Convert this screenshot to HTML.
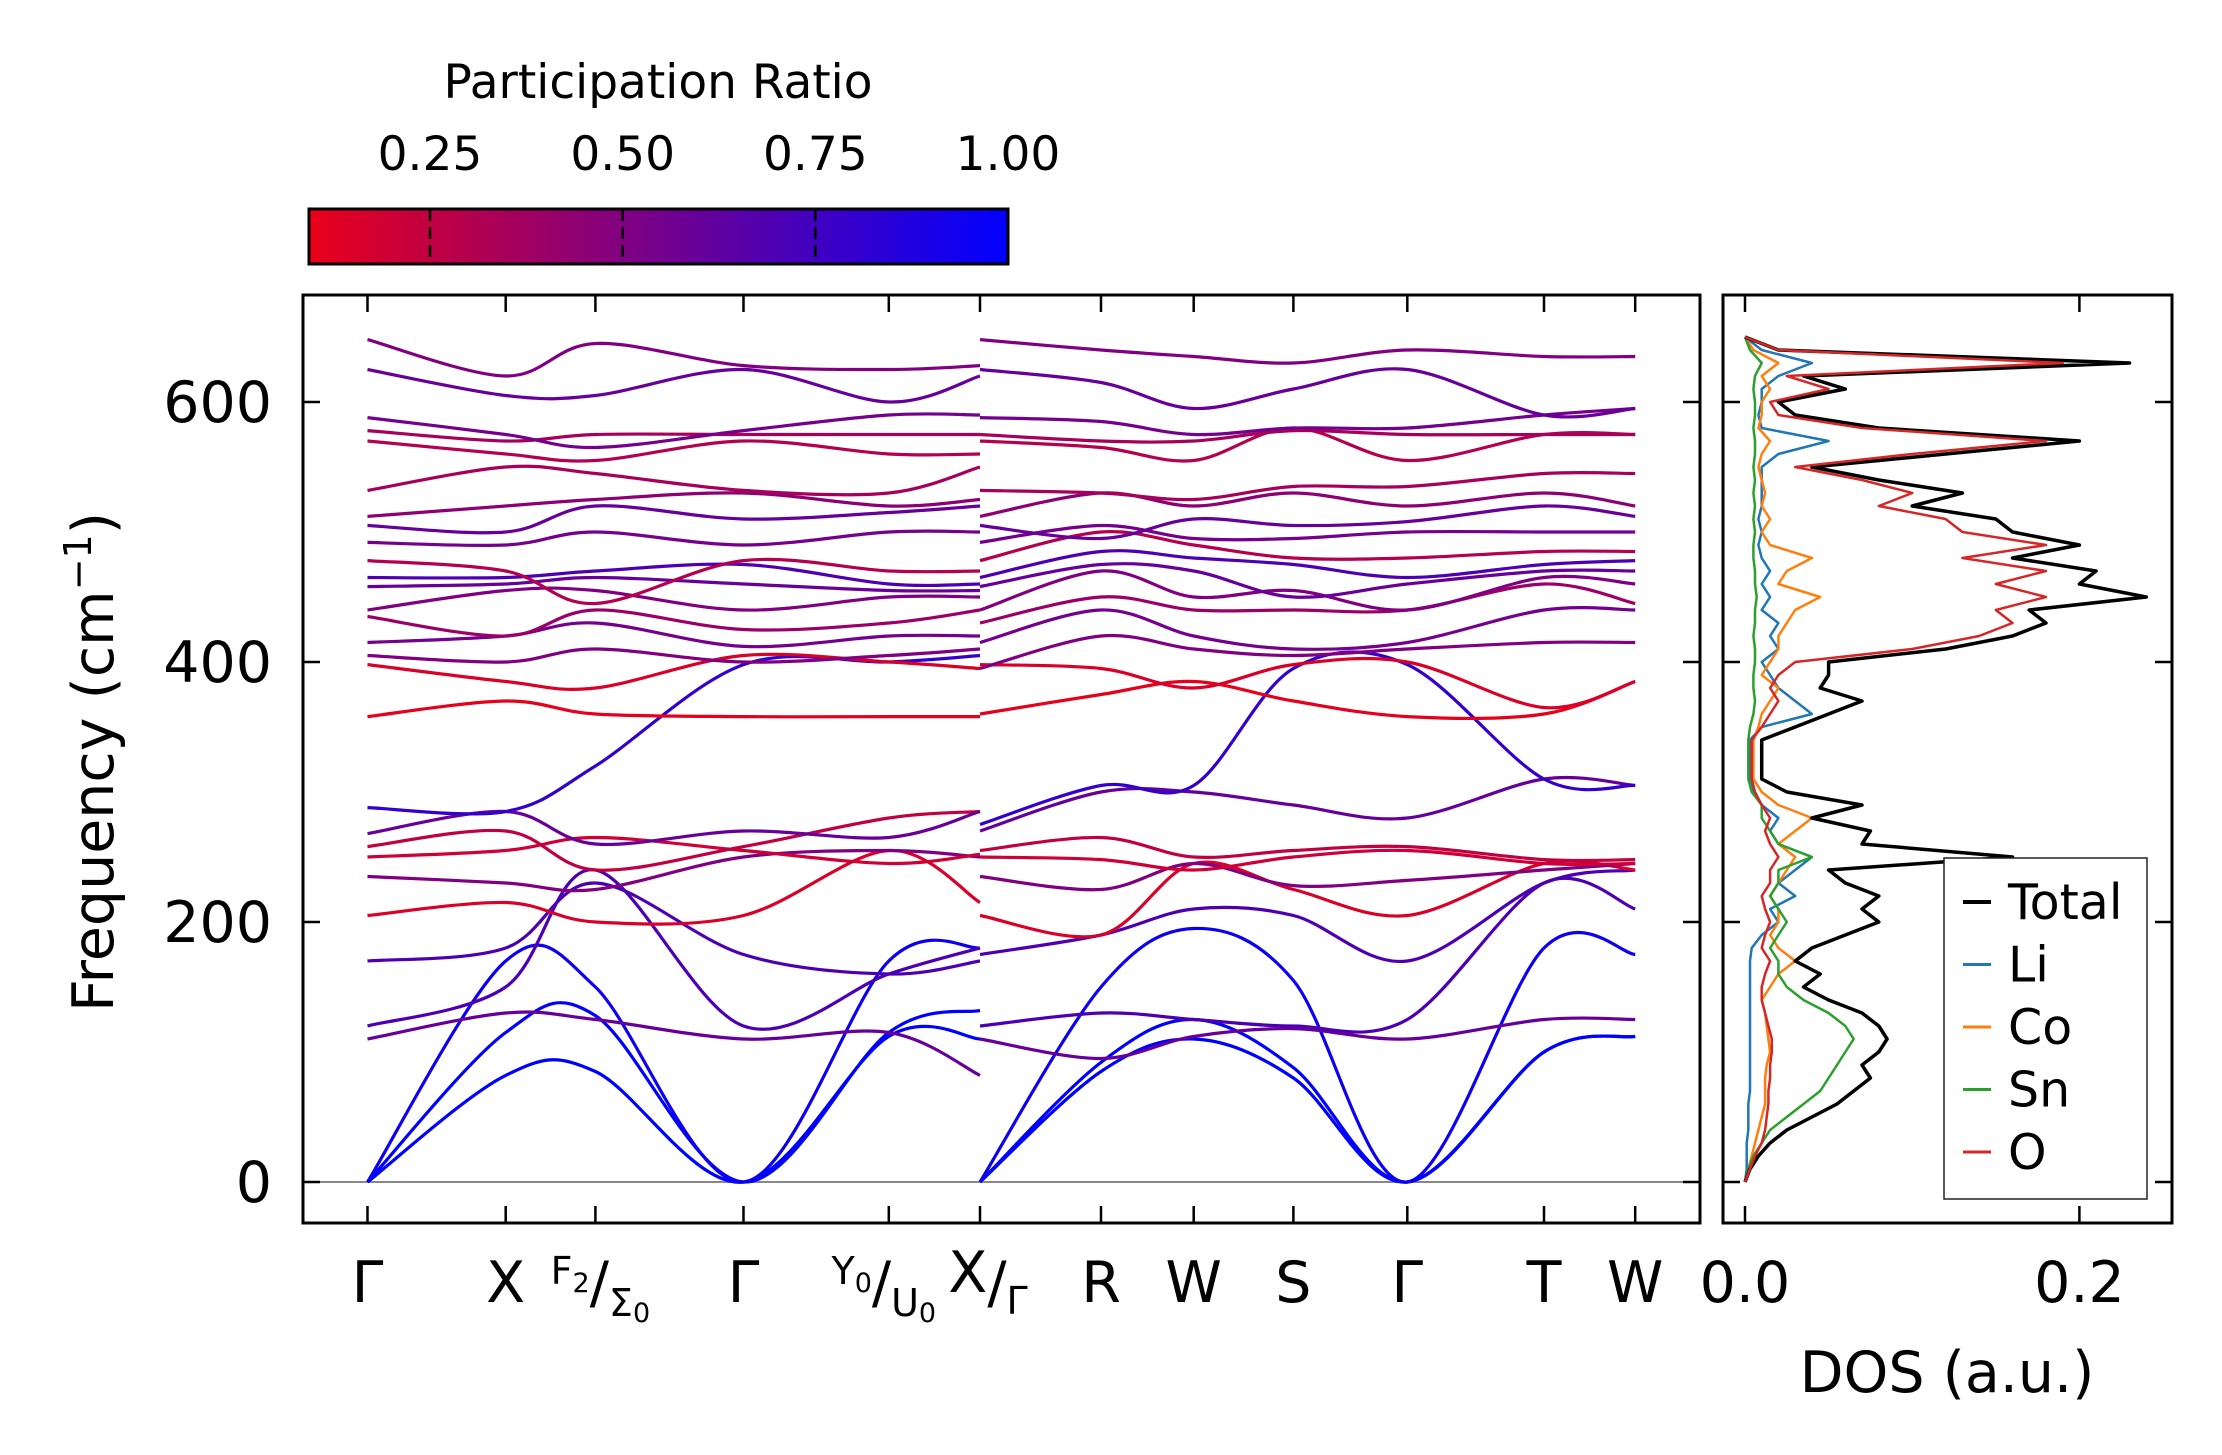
<!DOCTYPE html>
<html><head><meta charset="utf-8"><title>Phonon bands and DOS</title>
<style>
html,body{margin:0;padding:0;background:#fff;}
svg{display:block;font-family:"DejaVu Sans","Liberation Sans",sans-serif;}
</style></head>
<body>
<svg id="fig" width="2222" height="1455" viewBox="0 0 2222 1455" xmlns="http://www.w3.org/2000/svg">
<defs>
<linearGradient id="cbgrad" x1="0" x2="1" y1="0" y2="0">
<stop offset="0" stop-color="rgb(233,0,26)"/><stop offset="1" stop-color="rgb(0,0,255)"/>
</linearGradient>
</defs>
<g id="colorbar">
<text x="658" y="98" font-size="47" text-anchor="middle">Participation Ratio</text>
<rect x="309" y="209" width="699" height="55" fill="url(#cbgrad)" stroke="#000" stroke-width="3"/>
<g id="cbticks"></g>
</g>
<g id="bandplot"></g>
<g id="dosplot"></g>
<text transform="translate(113,762) rotate(-90)" font-size="57" text-anchor="middle">Frequency (cm<tspan baseline-shift="super" font-size="38">−1</tspan>)</text>
<text x="1947" y="1392" font-size="57" text-anchor="middle">DOS (a.u.)</text>
</svg>
<script>
const NS="http://www.w3.org/2000/svg";
// ---- colorbar data
const cbTicks=[0.25,0.5,0.75,1.0];
const cbLabels=["0.25","0.50","0.75","1.00"];
// ---- band structure data
const nodeLabels=["Γ","X","F2/Σ0","Γ","Y0/U0","X/Γ","","R","W","S","Γ","T","W"];
const freqTicks=[0,200,400,600];
const bandPR=[1.0,1.0,0.95,0.6,0.7,0.7,0.15,0.5,0.2,0.25,0.6,0.8,0.1,0.15,0.5,0.55,0.4,0.5,0.6,0.7,0.3,0.55,0.6,0.45,0.35,0.3,0.35,0.55,0.6,0.5];
const b01=[0,82,85,0,112,110, 0,85,110,80,0,100,112];
const b02=[0,115,128,0,115,132, 0,92,125,88,0,100,112];
const b03=[0,170,150,0,170,180, 0,150,195,155,0,180,175];
const b04=[110,130,125,110,115,82, 110,95,112,118,110,125,125];
const b05=[120,150,240,120,160,180, 120,130,125,120,125,230,210];
const b06=[170,180,230,175,160,170, 175,190,210,205,170,230,240];
const b07=[205,215,200,205,255,215, 205,190,245,225,205,245,240];
const b08=[235,230,225,250,255,250, 235,225,245,228,232,240,245];
const b09=[250,255,265,255,245,252, 250,248,240,250,255,245,245];
const b10=[258,270,240,258,280,285, 255,265,250,255,258,248,248];
const b11=[268,285,260,270,265,285, 270,300,300,290,280,310,305];
const b12=[288,285,320,398,400,405, 275,305,305,395,398,310,305];
const b13=[358,370,360,358,358,358, 360,375,385,370,358,360,385];
const b14=[398,385,380,405,400,395, 398,395,380,398,400,365,385];
const b15=[405,400,410,400,405,410, 395,420,410,405,410,415,415];
const b16=[415,420,430,412,420,420, 415,440,420,410,415,440,440];
const b17=[435,420,440,425,430,440, 430,450,440,440,440,460,445];
const b18=[440,455,455,440,450,450, 440,470,450,455,440,465,460];
const b19=[458,460,465,460,455,455, 458,475,470,450,460,470,470];
const b20=[465,465,470,475,460,460, 465,485,480,475,465,475,478];
const b21=[478,470,445,478,470,470, 478,500,490,480,480,485,485];
const b22=[492,490,500,490,500,500, 492,505,495,495,500,500,500];
const b23=[505,500,520,510,515,520, 505,495,510,505,508,520,512];
const b24=[512,520,525,530,520,525, 512,530,520,530,520,530,520];
const b25=[532,550,545,532,530,550, 532,530,525,535,535,545,545];
const b26=[570,560,555,570,560,560, 570,565,555,580,555,575,575];
const b27=[578,570,575,575,575,575, 575,570,570,578,575,575,575];
const b28=[588,575,565,578,590,590, 588,585,575,580,580,590,595];
const b29=[625,605,605,625,600,620, 625,615,595,610,625,590,595];
const b30=[648,620,645,628,625,628, 648,640,635,630,640,635,635];
const bands=[b01,b02,b03,b04,b05,b06,b07,b08,b09,b10,b11,b12,b13,b14,b15,b16,b17,b18,b19,b20,b21,b22,b23,b24,b25,b26,b27,b28,b29,b30];
// ---- DOS data (frequency grid every 10 cm-1, 0..650)
const dosFreq=[0,10,20,30,40,50,60,70,80,90,100,110,120,130,140,150,160,170,180,190,200,210,220,230,240,250,260,270,280,290,300,310,320,330,340,350,360,370,380,390,400,410,420,430,440,450,460,470,480,490,500,510,520,530,540,550,560,570,580,590,600,610,620,630,640,650];
const dosTotal=[0,0.003,0.008,0.015,0.025,0.04,0.055,0.065,0.075,0.07,0.08,0.085,0.08,0.07,0.05,0.035,0.045,0.03,0.04,0.06,0.08,0.07,0.08,0.06,0.05,0.16,0.07,0.075,0.04,0.07,0.025,0.01,0.01,0.01,0.01,0.03,0.05,0.07,0.045,0.05,0.05,0.12,0.16,0.18,0.17,0.24,0.2,0.21,0.16,0.2,0.16,0.15,0.1,0.13,0.08,0.04,0.12,0.2,0.08,0.03,0.02,0.06,0.035,0.23,0.02,0];
const dosLi=[0,0.001,0.001,0.001,0.002,0.002,0.002,0.003,0.003,0.003,0.003,0.003,0.003,0.003,0.003,0.003,0.003,0.003,0.004,0.01,0.02,0.015,0.03,0.02,0.03,0.04,0.02,0.015,0.02,0.01,0.005,0.003,0.003,0.003,0.003,0.01,0.04,0.03,0.02,0.015,0.01,0.02,0.015,0.02,0.01,0.015,0.01,0.015,0.01,0.008,0.01,0.008,0.01,0.01,0.01,0.01,0.02,0.05,0.01,0.008,0.01,0.01,0.02,0.04,0.01,0];
const dosCo=[0,0.002,0.004,0.006,0.008,0.01,0.012,0.012,0.012,0.013,0.015,0.014,0.013,0.012,0.01,0.015,0.02,0.03,0.02,0.015,0.02,0.02,0.015,0.02,0.025,0.03,0.02,0.03,0.04,0.02,0.01,0.005,0.005,0.005,0.005,0.008,0.01,0.015,0.02,0.01,0.015,0.02,0.02,0.025,0.03,0.045,0.02,0.025,0.04,0.015,0.01,0.015,0.01,0.012,0.01,0.008,0.01,0.015,0.008,0.01,0.01,0.015,0.01,0.02,0.005,0];
const dosSn=[0,0.002,0.005,0.01,0.015,0.025,0.035,0.045,0.05,0.055,0.06,0.065,0.06,0.05,0.035,0.025,0.02,0.02,0.015,0.02,0.025,0.02,0.015,0.02,0.02,0.04,0.02,0.015,0.01,0.01,0.004,0.002,0.002,0.002,0.002,0.003,0.005,0.006,0.005,0.005,0.006,0.006,0.005,0.006,0.006,0.007,0.006,0.006,0.005,0.005,0.006,0.005,0.006,0.005,0.006,0.005,0.006,0.006,0.005,0.006,0.006,0.005,0.006,0.01,0.003,0];
const dosO=[0,0.003,0.006,0.01,0.012,0.013,0.014,0.014,0.015,0.015,0.016,0.016,0.014,0.012,0.01,0.01,0.012,0.015,0.01,0.012,0.015,0.012,0.01,0.015,0.015,0.02,0.015,0.012,0.015,0.01,0.006,0.004,0.004,0.004,0.004,0.01,0.015,0.02,0.015,0.02,0.03,0.1,0.14,0.16,0.15,0.18,0.15,0.18,0.13,0.18,0.13,0.12,0.08,0.1,0.07,0.03,0.1,0.18,0.07,0.02,0.015,0.05,0.025,0.19,0.02,0];

// ---- geometry
const PL=303,PR_=1700,PT=295,PB=1223;
const DL=1723,DR=2172;
const nodeX=[367.5,505.7,595.4,743.5,888.8,980,980,1101,1193.7,1293.4,1407.3,1544,1635.2];
function yF(f){return 1182-(f/200)*260;}
function xD(v){return 1745+v*1672;}
function cbX(p){return 309+(p-0.093)/(1-0.093)*699;}
function prColor(p){let t=Math.max(0,Math.min(1,(p-0.093)/(1-0.093)));
 return `rgb(${Math.round(233*(1-t))},0,${Math.round(26+229*t)})`;}
function mk(tag,attrs,parent){const e=document.createElementNS(NS,tag);for(const k in attrs)e.setAttribute(k,attrs[k]);parent.appendChild(e);return e;}

// colorbar ticks
const cbt=document.getElementById('cbticks');
cbTicks.forEach((p,i)=>{
 const x=cbX(p);
 if(p<1){const l=mk('line',{x1:x,x2:x,y1:209,y2:264,stroke:'#000','stroke-width':2.5,'stroke-dasharray':'12,6'},cbt);
 
 }
 const t=mk('text',{x:x,y:170,'font-size':47,'text-anchor':'middle'},cbt);
 t.textContent=cbLabels[i];
 
 
});

// band plot
const bp=document.getElementById('bandplot');
const zl=mk('line',{x1:PL,x2:PR_,y1:yF(0),y2:yF(0),stroke:'#888','stroke-width':2},bp);


function smoothPath(xs,ys){
 let d=`M${xs[0]},${ys[0]}`;
 for(let i=0;i<xs.length-1;i++){
  const x0=xs[Math.max(0,i-1)],y0=ys[Math.max(0,i-1)];
  const x1=xs[i],y1=ys[i],x2=xs[i+1],y2=ys[i+1];
  const x3=xs[Math.min(xs.length-1,i+2)],y3=ys[Math.min(xs.length-1,i+2)];
  const c1x=x1+(x2-x0)/6,c1y=y1+(y2-y0)/6,c2x=x2-(x3-x1)/6,c2y=y2-(y3-y1)/6;
  d+=` C${c1x},${c1y} ${c2x},${c2y} ${x2},${y2}`;
 }
 return d;
}
bands.forEach((b,bi)=>{
 const segs=[[0,6],[6,13]];
 segs.forEach(([a,z])=>{
  const xs=nodeX.slice(a,z), ys=b.slice(a,z).map(yF);
  const p=mk('path',{d:smoothPath(xs,ys),fill:'none',stroke:prColor(bandPR[bi]),'stroke-width':3.2},bp);
  
  
 });
});
const fr=mk('rect',{x:PL,y:PT,width:PR_-PL,height:PB-PT,fill:'none',stroke:'#000','stroke-width':3},bp);


[0,1,2,3,4,5,7,8,9,10,11,12].forEach(i=>{
 const x=nodeX[i];
 const t1=mk('line',{x1:x,x2:x,y1:PB,y2:PB-17,stroke:'#000','stroke-width':2.5},bp);
 
 
 const t2=mk('line',{x1:x,x2:x,y1:PT,y2:PT+17,stroke:'#000','stroke-width':2.5},bp);
 
 
});
freqTicks.forEach(f=>{
 const y=yF(f);
 const t1=mk('line',{x1:PL,x2:PL+17,y1:y,y2:y,stroke:'#000','stroke-width':2.5},bp);
 
 
 const t2=mk('line',{x1:PR_,x2:PR_-17,y1:y,y2:y,stroke:'#000','stroke-width':2.5},bp);
 
 
 const lb=mk('text',{x:272,y:y+20,'font-size':57,'text-anchor':'end'},bp);
 lb.textContent=String(f);
 
 
 const t3=mk('line',{x1:DL,x2:DL+17,y1:y,y2:y,stroke:'#000','stroke-width':2.5},document.getElementById('dosplot'));
 
 
 const t4=mk('line',{x1:DR,x2:DR-17,y1:y,y2:y,stroke:'#000','stroke-width':2.5},document.getElementById('dosplot'));
 
 
});
// x labels
const LY=1302;
function simpleLabel(x,s){const t=mk('text',{x:x,y:LY,'font-size':57,'text-anchor':'middle'},bp);t.textContent=s;
 
 }
simpleLabel(nodeX[0],nodeLabels[0]);simpleLabel(nodeX[1],nodeLabels[1]);simpleLabel(nodeX[3],nodeLabels[3]);
simpleLabel(nodeX[7],nodeLabels[7]);simpleLabel(nodeX[8],nodeLabels[8]);simpleLabel(nodeX[9],nodeLabels[9]);
simpleLabel(nodeX[10],nodeLabels[10]);simpleLabel(nodeX[11],nodeLabels[11]);simpleLabel(nodeX[12],nodeLabels[12]);
function compLabel(x,a,asub,b,bsub){
 const t=mk('text',{x:x,y:LY,'font-size':57,'text-anchor':'middle'},bp);
 
 
 t.innerHTML=`<tspan font-size="38" dy="-18">${a}</tspan><tspan font-size="27" dy="8">${asub}</tspan><tspan dy="10">/</tspan><tspan font-size="38" dy="14">${b}</tspan><tspan font-size="27" dy="6">${bsub}</tspan>`;
}
compLabel(nodeX[2]+5,'F','2','Σ','0');
compLabel(nodeX[4]-5,'Y','0','U','0');
const xg=mk('text',{x:nodeX[5]+8,y:LY,'font-size':57,'text-anchor':'middle'},bp);


xg.innerHTML=`<tspan dy="-10">X</tspan><tspan dy="10">/</tspan><tspan font-size="38" dy="12">Γ</tspan>`;

// DOS plot
const dp=document.getElementById('dosplot');
const series=[["dos-li",dosLi,"#1f77b4"],["dos-co",dosCo,"#ff7f0e"],["dos-sn",dosSn,"#2ca02c"],["dos-total",dosTotal,"#000"],["dos-o",dosO,"#d62728"]];
series.forEach(([n,arr,c])=>{
 const pts=arr.map((v,i)=>`${xD(v).toFixed(1)},${yF(dosFreq[i]).toFixed(1)}`).join(' ');
 const pl=mk('polyline',{points:pts,fill:'none',stroke:c,'stroke-width':n==='dos-total'?3.5:2.5,'stroke-linejoin':'round'},dp);
 
 
});
const df=mk('rect',{x:DL,y:PT,width:DR-DL,height:PB-PT,fill:'none',stroke:'#000','stroke-width':3},dp);


const dosTicks=[0,0.2];const dosTickLabels=["0.0","0.2"];
dosTicks.forEach((v,i)=>{
 const x=xD(v);
 const a=mk('line',{x1:x,x2:x,y1:PB,y2:PB-17,stroke:'#000','stroke-width':2.5},dp);
 
 
 const b=mk('line',{x1:x,x2:x,y1:PT,y2:PT+17,stroke:'#000','stroke-width':2.5},dp);
 
 
 const t=mk('text',{x:x,y:LY,'font-size':57,'text-anchor':'middle'},dp);
 t.textContent=dosTickLabels[i];
 
 
});
// legend
const lg=mk('g',{},dp);


mk('rect',{x:1944,y:858,width:203,height:341,fill:'#fff',stroke:'#222','stroke-width':1.5},lg);
const legNames=["Total","Li","Co","Sn","O"];const legColors=["#000","#1f77b4","#ff7f0e","#2ca02c","#d62728"];
legNames.forEach((nm,i)=>{
 const y=902+i*62.5;
 const l=mk('line',{x1:1963,x2:1991,y1:y,y2:y,stroke:legColors[i],'stroke-width':nm==='Total'?4:3},lg);
 
 
 const t=mk('text',{x:2008,y:y+17,'font-size':49},lg);
 t.textContent=nm;
 
 
});
</script>
</body></html>
